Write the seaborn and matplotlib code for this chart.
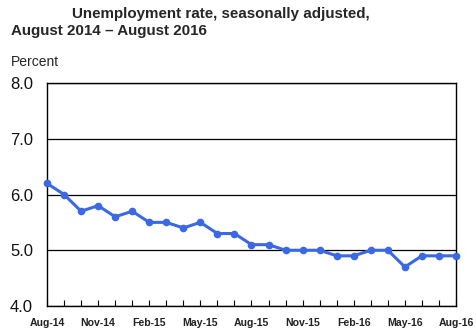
import matplotlib
matplotlib.use("Agg")
import matplotlib.pyplot as plt
import seaborn as sns
import pandas as pd

months = ["Aug-14", "Sep-14", "Oct-14", "Nov-14", "Dec-14", "Jan-15", "Feb-15",
          "Mar-15", "Apr-15", "May-15", "Jun-15", "Jul-15", "Aug-15", "Sep-15",
          "Oct-15", "Nov-15", "Dec-15", "Jan-16", "Feb-16", "Mar-16", "Apr-16",
          "May-16", "Jun-16", "Jul-16", "Aug-16"]
rate = [6.2, 6.0, 5.7, 5.8, 5.6, 5.7, 5.5, 5.5, 5.4, 5.5, 5.3, 5.3, 5.1, 5.1,
        5.0, 5.0, 5.0, 4.9, 4.9, 5.0, 5.0, 4.7, 4.9, 4.9, 4.9]
y_ticks = [4.0, 5.0, 6.0, 7.0, 8.0]

df = pd.DataFrame({"idx": range(len(months)), "month": months, "rate": rate})

sns.set_style("white")
plt.rcParams["font.family"] = ["Liberation Sans", "DejaVu Sans"]

fig = plt.figure(figsize=(4.77, 3.33), dpi=100)
ax = fig.add_axes([47 / 477, 1 - 306 / 333, (456 - 47) / 477, (306 - 83) / 333])

line_color = "#3b68e3"
sns.lineplot(data=df, x="idx", y="rate", ax=ax, color=line_color, linewidth=2.2,
             marker="o", markersize=5.5, markeredgewidth=0, zorder=3, clip_on=False)

ax.set_xlim(0, len(months) - 1)
ax.set_ylim(4.0, 8.0)
ax.set_yticks(y_ticks)
ax.set_yticklabels([f"{v:.1f}" for v in y_ticks], fontsize=12, color="#111111")
ax.yaxis.grid(True, color="black", linewidth=0.9)
ax.set_axisbelow(True)

ax.set_xticks(list(range(0, len(months), 3)))
ax.set_xticklabels(months[::3], fontsize=7.6, fontweight="bold", color="#222222")
ax.set_xticks(list(range(len(months))), minor=True)
ax.tick_params(axis="x", which="both", direction="in", length=4, width=0.8,
               color="black", pad=8.5, bottom=True)
ax.tick_params(axis="y", length=0, pad=10)

for s in ax.spines.values():
    s.set_color("black")
    s.set_linewidth(1.0)
    s.set_visible(True)

ax.set_xlabel("")
ax.set_ylabel("")

fig.text(72 / 477, 1 - 14 / 333, "Unemployment rate, seasonally adjusted,",
         fontsize=10.9, fontweight="bold", ha="left", va="center")
fig.text(11 / 477, 1 - 31 / 333, "August 2014 \u2013 August 2016",
         fontsize=10.9, fontweight="bold", ha="left", va="center")
fig.text(11 / 477, 1 - 62 / 333, "Percent", fontsize=10, ha="left", va="center")

fig.savefig("out.png", dpi=100)
